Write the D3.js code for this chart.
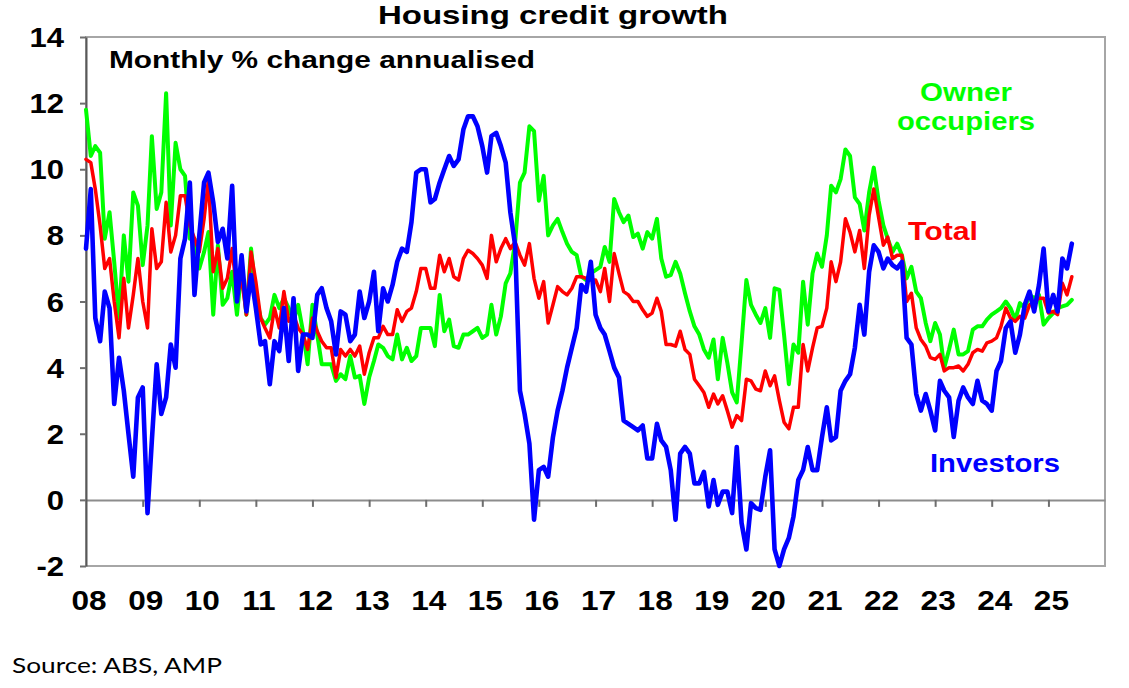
<!DOCTYPE html>
<html><head><meta charset="utf-8">
<script src="https://cdn.jsdelivr.net/npm/d3@7"></script>
<style>body{margin:0;background:#fff;} svg{display:block;}</style>
</head><body>
<svg id="chart" width="1129" height="688"></svg>
<script>
// ---- data (monthly, Jan 2008 .. Jun 2025), % change annualised ----
const yearLabels = ["08","09","10","11","12","13","14","15","16","17","18","19","20","21","22","23","24","25"];
const yTickValues = [-2, 0, 2, 4, 6, 8, 10, 12, 14];
const seriesNames = ["Owner occupiers", "Total", "Investors"];

const investors = [
  7.6, 9.4, 5.5, 4.8, 6.3, 5.8, 2.9, 4.3, 3.3, 2.0, 0.7, 3.1,
  3.4, -0.4, 1.8, 4.1, 2.6, 3.1, 4.7, 4.0, 7.3, 7.9, 9.6, 6.2,
  8.0, 9.6, 9.9, 9.0, 7.8, 8.2, 7.3, 9.5, 6.0, 7.4, 5.7, 6.8,
  5.8, 4.7, 4.8, 3.5, 4.8, 4.5, 5.8, 4.2, 6.1, 3.9, 5.0, 5.0,
  4.9, 6.2, 6.4, 5.8, 5.4, 4.4, 5.7, 5.6, 4.8, 5.0, 6.3, 5.5,
  6.0, 6.9, 5.1, 6.4, 6.0, 6.5, 7.2, 7.6, 7.5, 8.4, 9.9, 10.0,
  10.0, 9.0, 9.1, 9.6, 10.0, 10.4, 10.1, 10.3, 11.2, 11.6, 11.6, 11.3,
  10.7, 9.9, 11.0, 11.1, 10.7, 10.2, 8.7, 7.7, 3.3, 2.6, 1.7, -0.6,
  0.9, 1.0, 0.7, 1.9, 2.7, 3.3, 4.0, 4.6, 5.2, 6.5, 6.3, 7.2,
  5.6, 5.2, 5.0, 4.5, 4.0, 3.7, 2.4, 2.3, 2.2, 2.1, 2.25, 1.25,
  1.25, 2.3, 1.8, 1.6, 0.9, -0.6, 1.4, 1.6, 1.4, 0.5, 0.5, 0.85,
  -0.2, 0.6, -0.15, 0.25, 0.25, -0.4, 1.6, -0.7, -1.5, -0.1, -0.25, -0.3,
  0.7, 1.5, -1.5, -2.0, -1.5, -1.15, -0.5, 0.6, 0.9, 1.6, 0.9, 0.9,
  1.9, 2.8, 1.8, 1.9, 3.3, 3.6, 3.8, 4.6, 5.9, 5.0, 6.9, 7.7,
  7.5, 7.0, 7.3, 7.1, 7.0, 7.2, 4.9, 4.7, 3.2, 2.7, 3.2, 2.7,
  2.1, 3.6, 3.3, 3.1, 1.9, 3.0, 3.4, 3.1, 2.9, 3.6, 3.0, 2.9,
  2.7, 3.9, 4.2, 5.2, 5.4, 4.45, 5.0, 5.9, 6.3, 5.7, 6.5, 7.6,
  5.7, 6.2, 5.7, 7.3, 7.0, 7.75
];

const total = [
  10.3, 10.2, 9.4, 8.3, 7.0, 7.3, 6.0, 4.9, 6.7, 5.2, 6.2, 7.3,
  6.0, 5.2, 8.2, 7.0, 7.2, 9.0, 7.5, 8.0, 9.2, 9.2, 8.3, 7.9,
  7.5, 8.5, 9.7, 6.9, 7.6, 6.4, 6.7, 7.6, 6.2, 6.7, 5.6, 7.5,
  6.6, 5.5, 5.2, 4.9, 5.8, 5.2, 6.3, 5.4, 5.6, 5.2, 5.0, 4.55,
  5.5, 5.1, 4.8, 4.6, 4.6, 3.7, 4.55, 4.35, 4.55, 4.35, 4.65, 3.8,
  4.45, 4.9, 4.9, 5.25, 5.0, 5.0, 5.75, 5.4, 5.7, 5.8, 6.3, 7.0,
  7.0, 6.4, 6.4, 7.4, 6.9, 7.3, 6.75, 6.65, 7.3, 7.55, 7.45, 7.3,
  7.1, 6.7, 8.0, 7.2, 7.6, 7.9, 7.6, 7.8, 7.4, 7.1, 7.75, 6.7,
  6.1, 6.6, 5.35, 5.9, 6.45, 6.3, 6.2, 6.4, 6.75, 6.75, 6.7, 6.65,
  6.65, 6.3, 7.0, 6.0, 7.45, 6.85, 6.3, 6.2, 6.0, 6.0, 5.75, 5.55,
  5.65, 6.1, 5.7, 4.7, 4.7, 4.65, 5.1, 4.55, 4.4, 3.65, 3.45, 3.25,
  2.8, 3.2, 2.9, 3.15, 2.7, 2.2, 2.55, 2.4, 3.65, 3.6, 3.35, 3.3,
  3.9, 3.45, 3.75, 3.0, 2.35, 2.15, 2.8, 2.8, 4.7, 3.9, 4.6, 5.2,
  5.25, 5.8, 7.2, 6.6, 7.2, 8.5, 8.1, 7.5, 8.15, 7.0, 8.6, 9.4,
  8.55, 7.7, 7.95, 7.3, 7.4, 7.4, 6.0, 6.25, 5.2, 4.85, 4.65, 4.3,
  4.25, 4.4, 3.9, 4.0, 4.0, 4.05, 3.9, 4.1, 4.45, 4.55, 4.5, 4.75,
  4.8, 4.9, 5.25, 5.8, 5.5, 5.4, 5.55, 5.5, 5.9, 6.0, 6.1, 6.1,
  5.65, 5.7, 5.6, 6.55, 6.2, 6.75
];

const ownerOccupiers = [
  11.8, 10.4, 10.7, 10.5, 7.9, 8.7, 7.2, 5.5, 8.0, 6.6, 9.3, 8.9,
  7.1, 8.3, 11.0, 8.8, 9.3, 12.3, 8.3, 10.8, 10.0, 9.8, 7.9, 7.9,
  7.0, 7.5, 8.1, 5.6, 7.7, 5.9, 6.1, 6.9, 5.6, 7.0, 5.6, 7.6,
  6.2, 5.5, 5.3, 5.5, 6.2, 5.8, 6.1, 5.8, 5.4, 5.9, 5.1, 4.1,
  5.9, 5.0, 4.1, 4.1, 4.1, 3.6, 3.8, 3.65, 4.35, 3.7, 3.75, 2.9,
  3.7, 4.2, 4.7, 4.6, 4.35, 4.25, 5.0, 4.25, 4.6, 4.2, 4.35, 5.2,
  5.2, 5.2, 4.65, 6.2, 5.1, 5.45, 4.65, 4.6, 5.0, 5.0, 5.1, 5.2,
  4.9, 5.0, 5.9, 5.0, 5.55, 6.55, 6.85, 7.8, 9.6, 9.9, 11.3, 11.15,
  9.05, 9.8, 8.0, 8.3, 8.5, 8.1, 7.75, 7.5, 7.4, 6.75, 6.65, 6.85,
  6.95, 7.05, 7.65, 7.2, 9.1, 8.7, 8.4, 8.6, 7.95, 8.05, 7.6, 8.1,
  7.9, 8.5, 7.3, 6.75, 6.8, 7.2, 6.85, 6.25, 5.7, 5.25, 5.0, 4.55,
  4.3, 4.85, 3.65, 4.9, 4.15, 3.25, 2.95, 4.75, 6.65, 5.9, 5.6, 5.35,
  5.8, 4.9, 6.4, 6.35, 5.0, 3.5, 4.7, 4.45, 6.6, 5.3, 6.85, 7.45,
  7.05, 8.0, 9.5, 9.3, 9.7, 10.6, 10.4, 9.15, 8.95, 8.15, 9.3, 10.05,
  9.05, 8.3, 7.9, 7.5, 7.75, 7.4, 6.7, 7.05, 6.3, 6.1, 5.35, 4.8,
  5.35, 5.0, 4.0, 4.55, 5.15, 4.4, 4.4, 4.5, 5.15, 5.25, 5.25, 5.45,
  5.6, 5.7, 5.8, 6.0, 5.8, 5.45, 5.95, 5.8, 6.2, 6.1, 6.2, 5.3,
  5.5, 5.65, 5.8, 5.85, 5.9, 6.05
];

// ---- layout ----
const svg = d3.select("#chart");
const plot = { left: 86, right: 1105, top: 37, bottom: 566 };
const startMonth = new Date(2008, 0, 1);
const months = d3.timeMonth.range(startMonth, d3.timeMonth.offset(startMonth, investors.length));

const x = d3.scaleTime()
  .domain([new Date(2008, 0, 1), new Date(2026, 0, 1)])
  .range([plot.left, plot.right]);
const y = d3.scaleLinear().domain([-2, 14]).range([plot.bottom, plot.top]);

const FONT = "'Liberation Sans', Arial, Helvetica, sans-serif";

function stretchedText(g, txt, px, py, opts) {
  return g.append("text")
    .attr("transform", `translate(${px},${py}) scale(${opts.sx || 1},1)`)
    .attr("font-family", opts.family || FONT)
    .attr("font-size", opts.size)
    .attr("font-weight", opts.weight || "bold")
    .attr("fill", opts.color || "#000")
    .attr("text-anchor", opts.anchor || "start")
    .text(txt);
}

// plot frame
svg.append("rect")
  .attr("x", plot.left).attr("y", plot.top)
  .attr("width", plot.right - plot.left).attr("height", plot.bottom - plot.top)
  .attr("fill", "none").attr("stroke", "#a6a6a6").attr("stroke-width", 2);

// zero line with year ticks
const yearTicks = d3.timeYear.range(new Date(2009, 0, 1), new Date(2026, 0, 1));
const xAxis = d3.axisBottom(x).tickValues(yearTicks).tickSize(7).tickSizeOuter(0).tickFormat("");
const xg = svg.append("g").attr("transform", `translate(0,${y(0)})`).call(xAxis);
xg.select(".domain").attr("stroke", "#8c8c8c").attr("stroke-width", 2);
xg.selectAll(".tick line").attr("stroke", "#6e6e6e").attr("stroke-width", 2);

// y axis
const yAxis = d3.axisLeft(y).tickValues(yTickValues).tickSize(6).tickSizeOuter(0).tickFormat("");
const yg = svg.append("g").attr("transform", `translate(${plot.left},0)`).call(yAxis);
yg.select(".domain").attr("stroke", "#595959").attr("stroke-width", 2);
yg.selectAll(".tick line").attr("stroke", "#6e6e6e").attr("stroke-width", 2);

// y tick labels
const labelsG = svg.append("g");
yTickValues.forEach(v => {
  stretchedText(labelsG, String(v), 64, y(v) + 10, { size: 27, anchor: "end", sx: 1.15 });
});

// x labels (centred on the year ticks)
const labelYears = d3.timeYear.range(new Date(2008, 0, 1), new Date(2026, 0, 1));
yearLabels.forEach((lab, i) => {
  stretchedText(labelsG, lab, x(labelYears[i]) + 3, 610, { size: 27, anchor: "middle", sx: 1.17 });
});

// series
const line = d3.line().x((d, i) => x(months[i])).y(d => y(d));
const seriesDefs = [
  { name: seriesNames[0], values: ownerOccupiers, color: "#00ff00", width: 4.0 },
  { name: seriesNames[1], values: total, color: "#ff0000", width: 3.5 },
  { name: seriesNames[2], values: investors, color: "#0000ff", width: 4.6 }
];
seriesDefs.forEach(s => {
  svg.append("path")
    .datum(s.values)
    .attr("d", line)
    .attr("fill", "none")
    .attr("stroke", s.color)
    .attr("stroke-width", s.width)
    .attr("stroke-linejoin", "round")
    .attr("stroke-linecap", "round");
});

// titles
const tg = svg.append("g");
tg.append("text").attr("x", 553).attr("y", 24)
  .attr("font-family", FONT).attr("font-size", 25).attr("font-weight", "bold")
  .attr("text-anchor", "middle").attr("textLength", 350).attr("lengthAdjust", "spacingAndGlyphs")
  .text("Housing credit growth");
tg.append("text").attr("x", 109).attr("y", 68)
  .attr("font-family", FONT).attr("font-size", 24).attr("font-weight", "bold")
  .attr("textLength", 426).attr("lengthAdjust", "spacingAndGlyphs")
  .text("Monthly % change annualised");

// series labels
function seriesLabel(txt, cx, by, len, color) {
  tg.append("text").attr("x", cx).attr("y", by)
    .attr("font-family", FONT).attr("font-size", 25).attr("font-weight", "bold")
    .attr("fill", color).attr("text-anchor", "middle")
    .attr("textLength", len).attr("lengthAdjust", "spacingAndGlyphs")
    .text(txt);
}
seriesLabel("Owner", 966, 101, 92, "#00ff00");
seriesLabel("occupiers", 966, 130, 138, "#00ff00");
seriesLabel("Total", 943, 240, 70, "#ff0000");
seriesLabel("Investors", 995, 472, 130, "#0000ff");

// source
tg.append("text").attr("x", 12).attr("y", 673)
  .attr("font-family", "Lato, 'Open Sans', sans-serif").attr("font-size", 22)
  .attr("textLength", 210).attr("lengthAdjust", "spacingAndGlyphs")
  .text("Source: ABS, AMP");
</script>
</body></html>
